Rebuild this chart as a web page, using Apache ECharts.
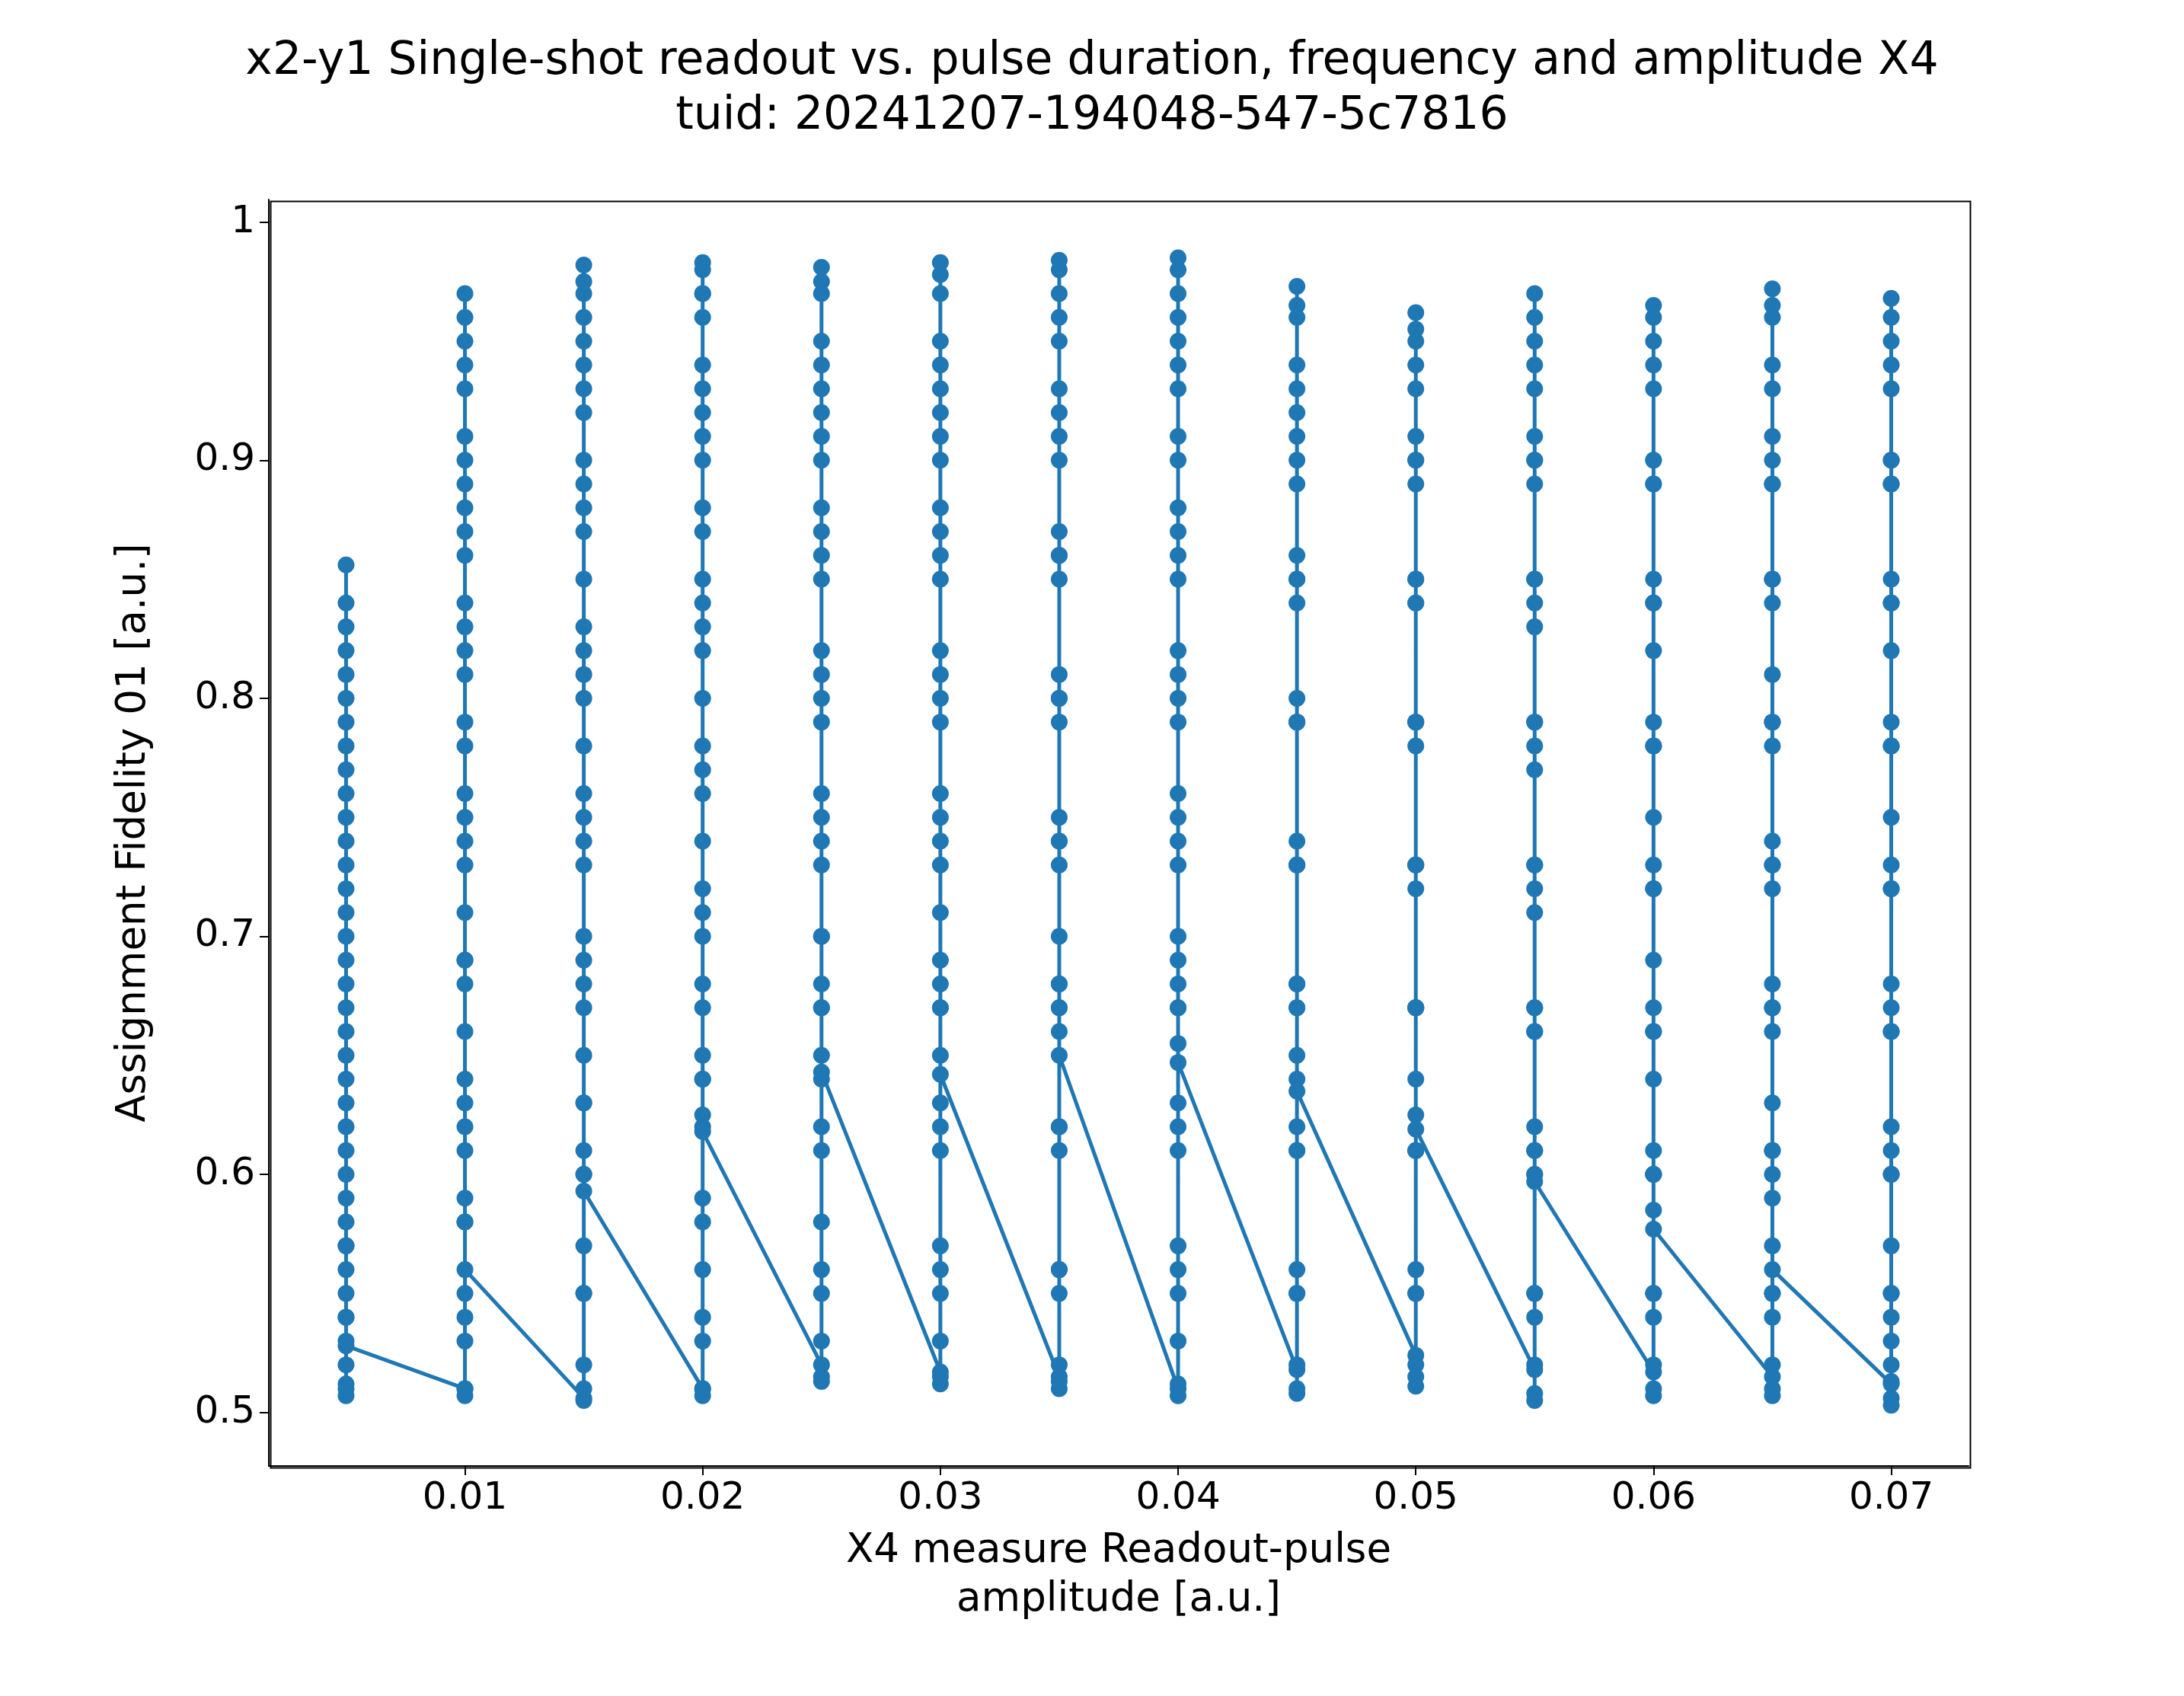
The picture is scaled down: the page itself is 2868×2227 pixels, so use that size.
<!doctype html>
<html lang="en">
<head>
<meta charset="UTF-8">
<title>Single-shot readout</title>
<script src="https://cdn.jsdelivr.net/npm/echarts@6/dist/echarts.min.js"></script>
<style>html,body{margin:0;background:#fff}#main{width:2868px;height:2227px}</style>
</head>
<body>
<div id="main"></div>
<script>
// readout amplitudes (one column of points each)
var amplitudes = [0.005, 0.01, 0.015, 0.02, 0.025, 0.03, 0.035, 0.04, 0.045, 0.05, 0.055, 0.06, 0.065, 0.07];
var fid005 = [0.512, 0.507, 0.53, 0.56, 0.58, 0.62, 0.66, 0.70, 0.74, 0.78, 0.81, 0.83, 0.856, 0.84, 0.80, 0.76, 0.72, 0.68, 0.64, 0.60, 0.57, 0.55, 0.52, 0.51, 0.54, 0.59, 0.63, 0.67, 0.71, 0.75, 0.79, 0.82, 0.77, 0.73, 0.69, 0.65, 0.61, 0.57, 0.54, 0.528];
var fid010 = [0.51, 0.507, 0.54, 0.59, 0.64, 0.69, 0.74, 0.79, 0.84, 0.89, 0.93, 0.96, 0.97, 0.95, 0.91, 0.87, 0.83, 0.78, 0.73, 0.68, 0.63, 0.58, 0.53, 0.51, 0.55, 0.61, 0.66, 0.71, 0.76, 0.81, 0.86, 0.90, 0.94, 0.88, 0.82, 0.75, 0.69, 0.62, 0.58, 0.56];
var fid015 = [0.506, 0.505, 0.55, 0.61, 0.67, 0.73, 0.78, 0.83, 0.88, 0.93, 0.96, 0.982, 0.975, 0.94, 0.90, 0.85, 0.80, 0.75, 0.70, 0.65, 0.60, 0.55, 0.52, 0.51, 0.57, 0.63, 0.69, 0.76, 0.82, 0.87, 0.92, 0.97, 0.95, 0.89, 0.81, 0.74, 0.68, 0.63, 0.60, 0.593];
var fid020 = [0.51, 0.507, 0.56, 0.62, 0.68, 0.74, 0.80, 0.85, 0.90, 0.94, 0.97, 0.983, 0.97, 0.93, 0.88, 0.83, 0.77, 0.71, 0.65, 0.59, 0.54, 0.51, 0.53, 0.58, 0.64, 0.70, 0.76, 0.82, 0.87, 0.92, 0.96, 0.98, 0.91, 0.84, 0.78, 0.72, 0.67, 0.64, 0.625, 0.618];
var fid025 = [0.52, 0.513, 0.56, 0.62, 0.68, 0.74, 0.80, 0.86, 0.91, 0.95, 0.981, 0.97, 0.93, 0.88, 0.82, 0.76, 0.70, 0.64, 0.58, 0.53, 0.515, 0.55, 0.61, 0.67, 0.73, 0.79, 0.85, 0.90, 0.94, 0.975, 0.92, 0.87, 0.81, 0.75, 0.70, 0.67, 0.65, 0.643];
var fid030 = [0.517, 0.512, 0.55, 0.61, 0.67, 0.73, 0.79, 0.85, 0.90, 0.94, 0.983, 0.97, 0.92, 0.87, 0.81, 0.75, 0.69, 0.63, 0.57, 0.53, 0.515, 0.56, 0.62, 0.68, 0.74, 0.80, 0.86, 0.91, 0.95, 0.978, 0.93, 0.88, 0.82, 0.76, 0.71, 0.67, 0.65, 0.642];
var fid035 = [0.515, 0.51, 0.55, 0.61, 0.67, 0.73, 0.79, 0.85, 0.90, 0.95, 0.984, 0.97, 0.92, 0.86, 0.80, 0.74, 0.68, 0.62, 0.56, 0.52, 0.513, 0.56, 0.62, 0.68, 0.74, 0.80, 0.86, 0.91, 0.96, 0.98, 0.93, 0.87, 0.81, 0.75, 0.70, 0.67, 0.66, 0.65];
var fid040 = [0.51, 0.507, 0.55, 0.61, 0.67, 0.73, 0.79, 0.85, 0.90, 0.95, 0.985, 0.97, 0.93, 0.87, 0.81, 0.75, 0.69, 0.63, 0.57, 0.53, 0.512, 0.56, 0.62, 0.68, 0.74, 0.80, 0.86, 0.91, 0.96, 0.98, 0.94, 0.88, 0.82, 0.76, 0.70, 0.67, 0.655, 0.647];
var fid045 = [0.518, 0.508, 0.55, 0.61, 0.67, 0.73, 0.79, 0.84, 0.89, 0.93, 0.973, 0.96, 0.92, 0.86, 0.80, 0.74, 0.68, 0.62, 0.56, 0.52, 0.51, 0.55, 0.61, 0.67, 0.73, 0.79, 0.85, 0.90, 0.94, 0.965, 0.91, 0.85, 0.79, 0.73, 0.68, 0.65, 0.64, 0.635];
var fid050 = [0.524, 0.511, 0.55, 0.61, 0.67, 0.73, 0.79, 0.84, 0.89, 0.93, 0.962, 0.95, 0.91, 0.85, 0.79, 0.73, 0.67, 0.61, 0.56, 0.52, 0.515, 0.55, 0.61, 0.67, 0.73, 0.79, 0.85, 0.90, 0.94, 0.955, 0.90, 0.84, 0.78, 0.72, 0.67, 0.64, 0.625, 0.619];
var fid055 = [0.518, 0.505, 0.54, 0.60, 0.66, 0.72, 0.78, 0.84, 0.89, 0.93, 0.97, 0.95, 0.91, 0.85, 0.79, 0.73, 0.67, 0.61, 0.55, 0.52, 0.508, 0.55, 0.61, 0.67, 0.73, 0.79, 0.85, 0.90, 0.94, 0.96, 0.90, 0.83, 0.77, 0.71, 0.66, 0.62, 0.60, 0.597];
var fid060 = [0.517, 0.507, 0.54, 0.60, 0.66, 0.72, 0.78, 0.84, 0.89, 0.93, 0.965, 0.95, 0.90, 0.84, 0.78, 0.72, 0.66, 0.60, 0.55, 0.52, 0.51, 0.55, 0.61, 0.67, 0.73, 0.79, 0.85, 0.90, 0.94, 0.96, 0.89, 0.82, 0.75, 0.69, 0.64, 0.60, 0.585, 0.577];
var fid065 = [0.515, 0.507, 0.54, 0.60, 0.66, 0.72, 0.78, 0.84, 0.89, 0.93, 0.972, 0.96, 0.91, 0.85, 0.79, 0.73, 0.67, 0.61, 0.55, 0.52, 0.51, 0.55, 0.61, 0.67, 0.73, 0.79, 0.85, 0.90, 0.94, 0.965, 0.89, 0.81, 0.74, 0.68, 0.63, 0.59, 0.57, 0.56];
var fid070 = [0.512, 0.503, 0.54, 0.60, 0.66, 0.72, 0.78, 0.84, 0.89, 0.93, 0.968, 0.95, 0.90, 0.84, 0.78, 0.72, 0.66, 0.60, 0.55, 0.52, 0.506, 0.55, 0.61, 0.67, 0.73, 0.79, 0.85, 0.90, 0.94, 0.96, 0.89, 0.82, 0.75, 0.68, 0.62, 0.57, 0.53, 0.513];
var columns = [fid005, fid010, fid015, fid020, fid025, fid030, fid035, fid040, fid045, fid050, fid055, fid060, fid065, fid070];
var xTicks = [0.01, 0.02, 0.03, 0.04, 0.05, 0.06, 0.07];
var yTicks = [0.5, 0.6, 0.7, 0.8, 0.9, 1.0];

var points = [];
columns.forEach(function (col, i) {
    col.forEach(function (v) { points.push([amplitudes[i], v]); });
});

var blue = '#1f77b4';
var font = 'DejaVu Sans';
var chart = echarts.init(document.getElementById('main'));
chart.setOption({
    animation: false,
    backgroundColor: '#fff',
    title: {
        text: 'x2-y1 Single-shot readout vs. pulse duration, frequency and amplitude X4\ntuid: 20241207-194048-547-5c7816',
        left: 'center', top: 40,
        textStyle: {fontFamily: font, fontWeight: 'normal', fontSize: 60, lineHeight: 72, color: '#000'}
    },
    grid: {left: 353, right: 283, top: 262, bottom: 302},
    xAxis: {
        type: 'value', min: 0.00175, max: 0.07325,
        name: 'X4 measure Readout-pulse\namplitude [a.u.]', nameLocation: 'middle', nameGap: 80,
        nameTextStyle: {fontFamily: font, fontSize: 53, lineHeight: 64, color: '#000', verticalAlign: 'top'},
        axisLine: {onZero: false, lineStyle: {color: '#000', width: 2}},
        axisTick: {show: true, length: 12, customValues: xTicks, lineStyle: {color: '#000', width: 2}},
        axisLabel: {customValues: xTicks, fontFamily: font, fontSize: 50, color: '#000', margin: 18},
        splitLine: {show: false}
    },
    yAxis: {
        type: 'value', min: 0.4775, max: 1.0095,
        name: 'Assignment Fidelity 01 [a.u.]', nameLocation: 'middle', nameGap: 150,
        nameTextStyle: {fontFamily: font, fontSize: 53, color: '#000'},
        axisLine: {onZero: false, lineStyle: {color: '#000', width: 2}},
        axisTick: {show: true, length: 12, customValues: yTicks, lineStyle: {color: '#000', width: 2}},
        axisLabel: {customValues: yTicks, fontFamily: font, fontSize: 50, color: '#000', margin: 18,
            formatter: function (v) { return v === 1 ? '1' : v.toFixed(1); }},
        splitLine: {show: false}
    },
    series: [{
        type: 'line',
        data: points,
        symbol: 'circle', symbolSize: 22,
        itemStyle: {color: blue},
        lineStyle: {color: blue, width: 5}
    }],
    // frame on top and right like matplotlib
    graphic: [{type: 'rect', left: 353, top: 262, shape: {width: 2868 - 353 - 283, height: 2227 - 262 - 302},
        style: {fill: 'none', stroke: '#000', lineWidth: 2}, silent: true}]
});
</script>
</body>
</html>
